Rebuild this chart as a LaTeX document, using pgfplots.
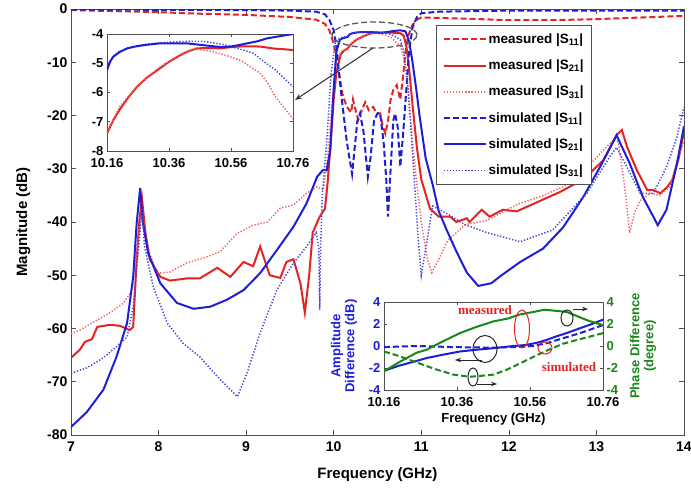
\documentclass[border=0pt]{standalone}
\usepackage{pgfplots}
\pgfplotsset{compat=1.18}
\usepackage{fontspec}
\setmainfont{Liberation Sans}
\newfontfamily\serifa{Liberation Serif}
\usetikzlibrary{arrows.meta}
\definecolor{cR}{RGB}{228,35,35}
\definecolor{cB}{RGB}{30,30,215}
\definecolor{cG}{RGB}{25,135,25}
\definecolor{cRl}{RGB}{238,100,100}
\definecolor{cBl}{RGB}{70,70,220}
\definecolor{frame}{RGB}{80,80,80}
\tikzset{
  rdash/.style={color=cR, line width=2pt, dash pattern=on 6pt off 3pt},
  rsol/.style={color=cR, line width=2pt, solid},
  rdot/.style={color=cRl, line width=1.5pt, dash pattern=on 1.3pt off 1.8pt},
  bdash/.style={color=cB, line width=2pt, dash pattern=on 6pt off 3pt},
  bsol/.style={color=cB, line width=2pt, solid},
  bdot/.style={color=cBl, line width=1.5pt, dash pattern=on 1.3pt off 1.8pt},
}
\begin{document}
\begin{tikzpicture}
\begin{axis}[
  at={(0,0)}, anchor=south west, scale only axis,
  width=613pt, height=426pt,
  xmin=7, xmax=14, ymin=-80, ymax=0,
  xtick={7,8,9,10,11,12,13,14},
  xticklabels={7,8,9,10,11,12,13,14},
  ytick={-80,-70,-60,-50,-40,-30,-20,-10,0},
  yticklabels={-80,-70,-60,-50,-40,-30,-20,-10,0},
  tick align=inside, major tick length=5pt,
  tick style={frame, line width=0.6pt},
  axis line style={frame, line width=0.8pt},
  tick label style={font=\fontsize{14}{14}\selectfont\bfseries},
  xticklabel style={yshift=-3pt},
  xlabel={Frequency (GHz)}, ylabel={Magnitude (dB)},
  label style={font=\fontsize{15}{15}\selectfont\bfseries},
  xlabel style={yshift=-9pt},
  ylabel style={yshift=10pt},
  legend style={at={(0.85,0.962)}, anchor=north east, draw=frame, line width=0.8pt,
    font=\fontsize{13.5}{13.5}\selectfont\bfseries, row sep=11pt, inner xsep=6pt, inner ysep=6pt},
  legend cell align=left,
  legend image code/.code={\draw[#1] (0pt,0pt) -- (42pt,0pt);},
]
\addplot[rdash] coordinates {(7,-0.2) (7.5,-0.4) (8,-0.6) (8.5,-0.9) (9,-1.1) (9.5,-1.5) (9.8,-2) (9.9,-2.8) (9.95,-4) (10.0,-6.5) (10.05,-11) (10.1,-16) (10.15,-18.4) (10.2,-19.4) (10.22,-17) (10.25,-19) (10.28,-20.8) (10.32,-19) (10.36,-17.5) (10.4,-19) (10.45,-18.4) (10.49,-19.5) (10.53,-19.6) (10.56,-22) (10.59,-23.4) (10.62,-21) (10.65,-17) (10.68,-15.2) (10.72,-14.3) (10.76,-17) (10.79,-13) (10.82,-8) (10.85,-5) (10.9,-3) (10.95,-2) (11,-1.6) (11.5,-1.8) (12,-2.1) (12.5,-2.1) (13,-1.9) (13.5,-1.6) (14,-1.3)};
\addlegendentry{measured |S\textsubscript{11}|}
\addplot[rsol] coordinates {(7,-65.5) (7.1,-64) (7.16,-62.5) (7.24,-62) (7.3,-59.7) (7.45,-59.3) (7.56,-59.5) (7.67,-60.3) (7.71,-59.7) (7.75,-47) (7.78,-40) (7.81,-35.5) (7.85,-42) (7.9,-47) (8.02,-50.3) (8.13,-51) (8.32,-50.6) (8.47,-50.6) (8.67,-48.6) (8.82,-50.3) (8.97,-47.5) (9.08,-48.3) (9.16,-44.6) (9.27,-50) (9.39,-50.5) (9.46,-47.5) (9.54,-47) (9.62,-51.5) (9.67,-57) (9.72,-50) (9.76,-42) (9.84,-39) (9.9,-37.5) (9.93,-32.7) (9.96,-26.5) (10.0,-17) (10.03,-12) (10.08,-8.5) (10.12,-7.8) (10.16,-7.4) (10.2,-6.55) (10.257,-5.8) (10.33,-5.18) (10.397,-4.72) (10.45,-4.49) (10.526,-4.49) (10.58,-4.43) (10.655,-4.43) (10.76,-4.55) (10.8,-5) (10.83,-7) (10.86,-11) (10.9,-18) (10.95,-26) (11.0,-32) (11.1,-37.5) (11.2,-39) (11.33,-39) (11.4,-40) (11.52,-39.3) (11.55,-40) (11.69,-37.7) (11.78,-39) (11.93,-37.7) (12.09,-38) (12.32,-36.3) (12.58,-34.4) (12.85,-32) (13.08,-28.4) (13.23,-23.7) (13.29,-22.7) (13.35,-25.9) (13.46,-30.2) (13.58,-34) (13.65,-34) (13.73,-34.6) (13.81,-33.4) (13.87,-32) (13.94,-28) (14,-23)};
\addlegendentry{measured |S\textsubscript{21}|}
\addplot[rdot] coordinates {(7,-61) (7.1,-60.3) (7.3,-58.4) (7.45,-57) (7.6,-55.2) (7.7,-52.8) (7.75,-45.3) (7.81,-38) (7.87,-44.6) (7.98,-49.6) (8.13,-49.4) (8.32,-47.7) (8.51,-46.8) (8.7,-45.6) (8.9,-42.1) (9.08,-40.6) (9.24,-40) (9.39,-37.4) (9.54,-36.8) (9.69,-34.6) (9.81,-33.4) (9.88,-34) (9.93,-28) (9.98,-18) (10.03,-10) (10.08,-8) (10.16,-7.35) (10.2,-6.5) (10.26,-5.75) (10.33,-5.13) (10.4,-4.68) (10.44,-4.5) (10.5,-4.6) (10.55,-4.75) (10.59,-4.9) (10.62,-5.1) (10.655,-5.35) (10.68,-5.7) (10.7,-6.1) (10.73,-6.5) (10.76,-6.9) (10.8,-9) (10.85,-15) (10.9,-25) (10.95,-33) (11.0,-40) (11.07,-47) (11.12,-49.5) (11.2,-47) (11.3,-43.5) (11.5,-40.5) (11.75,-39.7) (12.0,-37.5) (12.13,-36.5) (12.4,-35) (12.6,-33.5) (12.8,-31.5) (13.05,-27) (13.2,-24.5) (13.25,-25) (13.32,-33) (13.38,-42) (13.44,-38) (13.5,-36) (13.61,-34.6) (13.72,-35) (13.84,-33.4) (13.93,-28) (14,-25)};
\addlegendentry{measured |S\textsubscript{31}|}
\addplot[bdash] coordinates {(7,-0.1) (8,-0.15) (9,-0.2) (9.5,-0.3) (9.8,-0.5) (9.9,-1) (9.95,-2) (10,-4) (10.03,-7) (10.06,-12) (10.1,-18) (10.15,-25) (10.21,-31) (10.24,-26) (10.27,-21) (10.3,-19.6) (10.34,-23) (10.39,-31.5) (10.42,-28) (10.46,-21) (10.5,-19.6) (10.53,-19.6) (10.57,-25) (10.6,-32) (10.62,-39) (10.65,-30) (10.68,-21) (10.7,-19.6) (10.73,-22) (10.76,-29.6) (10.79,-24) (10.83,-15) (10.86,-8) (10.9,-3.5) (10.95,-1.5) (11,-0.8) (11.2,-0.5) (12,-0.3) (13,-0.3) (14,-0.3)};
\addlegendentry{simulated |S\textsubscript{11}|}
\addplot[bsol] coordinates {(7,-78.5) (7.18,-75.7) (7.37,-71.5) (7.52,-65.3) (7.64,-59) (7.71,-50.3) (7.75,-40.2) (7.79,-33.6) (7.82,-40) (7.88,-45.8) (8.02,-51.5) (8.21,-55.2) (8.4,-56.3) (8.59,-55.9) (8.78,-54.6) (8.97,-52.8) (9.16,-49.6) (9.35,-45.3) (9.54,-40.9) (9.69,-36.5) (9.81,-31.5) (9.88,-30.2) (9.92,-30.3) (9.96,-26.5) (10.0,-15) (10.03,-8) (10.07,-5.8) (10.1,-5.5) (10.16,-5.23) (10.18,-4.78) (10.225,-4.49) (10.28,-4.38) (10.33,-4.32) (10.418,-4.32) (10.494,-4.41) (10.558,-4.43) (10.612,-4.32) (10.676,-4.15) (10.76,-4.0) (10.82,-4.2) (10.86,-6) (10.9,-10) (10.95,-16) (10.98,-20) (11.05,-28) (11.13,-33) (11.2,-38) (11.29,-41.5) (11.4,-45.5) (11.52,-49.5) (11.65,-52) (11.8,-51.5) (11.9,-50.2) (12.13,-47.5) (12.39,-45) (12.62,-41) (12.85,-35.3) (13.04,-29.7) (13.23,-23.7) (13.38,-29) (13.53,-35.3) (13.65,-39) (13.7,-40.6) (13.8,-37.7) (13.92,-29) (14,-22)};
\addlegendentry{simulated |S\textsubscript{21}|}
\addplot[bdot] coordinates {(7,-68.4) (7.18,-67.4) (7.37,-65.5) (7.52,-63.4) (7.64,-61.6) (7.71,-56) (7.77,-45.3) (7.81,-37.4) (7.84,-44.6) (7.94,-52.2) (8.1,-59) (8.28,-62.8) (8.47,-65.3) (8.67,-69) (8.9,-72.8) (9.01,-68.4) (9.16,-60.8) (9.35,-52.8) (9.54,-47.7) (9.69,-44.6) (9.8,-42) (9.83,-45) (9.84,-56.5) (9.85,-45) (9.87,-35) (9.92,-25) (9.97,-12) (10.02,-6) (10.08,-5.4) (10.16,-5.1) (10.2,-4.6) (10.26,-4.4) (10.33,-4.3) (10.42,-4.25) (10.5,-4.3) (10.56,-4.43) (10.633,-4.66) (10.68,-5.0) (10.72,-5.35) (10.76,-5.8) (10.8,-8) (10.84,-13) (10.88,-22) (10.92,-32) (10.96,-42) (11.0,-50) (11.05,-45) (11.13,-37) (11.3,-38.5) (11.5,-40.5) (11.75,-42) (12.13,-43.7) (12.5,-41.5) (12.89,-34.6) (13.15,-27.8) (13.23,-26) (13.35,-29.7) (13.5,-34.6) (13.65,-34.6) (13.8,-29.7) (13.92,-24) (14,-18.4)};
\addlegendentry{simulated |S\textsubscript{31}|}
\end{axis}

% inset 1
\begin{axis}[
  at={(36pt,284pt)}, anchor=south west, scale only axis,
  width=186pt, height=117pt,
  xmin=10.16, xmax=10.76, ymin=-8, ymax=-4,
  xtick={10.16,10.36,10.56,10.76}, xticklabels={10.16,10.36,10.56,10.76},
  ytick={-8,-7,-6,-5,-4}, yticklabels={-8,-7,-6,-5,-4},
  tick align=inside, major tick length=3pt,
  tick style={frame, line width=0.6pt},
  axis line style={frame, line width=0.8pt},
  axis background/.style={fill=white},
  tick label style={font=\fontsize{13}{13}\selectfont\bfseries},
  xticklabel style={yshift=-4pt},
]
\addplot[rsol] coordinates {(10.16,-7.4) (10.18,-6.95) (10.203,-6.55) (10.23,-6.15) (10.257,-5.8) (10.29,-5.48) (10.33,-5.18) (10.36,-4.95) (10.397,-4.72) (10.42,-4.6) (10.45,-4.49) (10.49,-4.48) (10.526,-4.49) (10.55,-4.46) (10.58,-4.43) (10.62,-4.42) (10.655,-4.43) (10.7,-4.5) (10.73,-4.52) (10.76,-4.55)};
\addplot[rdot] coordinates {(10.16,-7.35) (10.2,-6.5) (10.26,-5.75) (10.33,-5.13) (10.4,-4.68) (10.44,-4.5) (10.5,-4.6) (10.55,-4.75) (10.59,-4.9) (10.62,-5.1) (10.655,-5.35) (10.68,-5.7) (10.7,-6.1) (10.73,-6.5) (10.76,-6.9)};
\addplot[bdot] coordinates {(10.16,-5.1) (10.18,-4.75) (10.2,-4.6) (10.23,-4.48) (10.26,-4.4) (10.3,-4.33) (10.36,-4.28) (10.42,-4.25) (10.47,-4.25) (10.5,-4.3) (10.53,-4.35) (10.56,-4.43) (10.6,-4.55) (10.633,-4.66) (10.66,-4.9) (10.68,-5.05) (10.7,-5.2) (10.72,-5.4) (10.74,-5.6) (10.76,-5.8)};
\addplot[bsol] coordinates {(10.16,-5.23) (10.17,-4.95) (10.18,-4.78) (10.2,-4.62) (10.225,-4.49) (10.25,-4.43) (10.28,-4.38) (10.33,-4.32) (10.418,-4.32) (10.46,-4.37) (10.494,-4.41) (10.53,-4.45) (10.558,-4.43) (10.585,-4.38) (10.612,-4.32) (10.645,-4.25) (10.676,-4.15) (10.72,-4.07) (10.76,-4.0)};
\end{axis}

% inset 2 (left axis: amplitude)
\begin{axis}[
  at={(313pt,45pt)}, anchor=south west, scale only axis,
  width=219pt, height=88pt,
  xmin=10.16, xmax=10.76, ymin=-4, ymax=4,
  xtick={10.16,10.36,10.56,10.76}, xticklabels={10.16,10.36,10.56,10.76},
  ytick={-4,-2,0,2,4}, yticklabels={-4,-2,0,2,4},
  tick align=inside, major tick length=3pt,
  tick style={frame, line width=0.6pt},
  axis line style={frame, line width=0.8pt},
  axis background/.style={fill=white},
  ytick pos=left,
  tick label style={font=\fontsize{13}{13}\selectfont\bfseries},
  yticklabel style={cB},
  xticklabel style={yshift=-4pt},
  xlabel={Frequency (GHz)},
  ylabel={Amplitude\\Difference (dB)},
  label style={font=\fontsize{13}{14}\selectfont\bfseries, align=center},
  ylabel style={cB, yshift=5pt},
  xlabel style={yshift=1pt},
]
\addplot[bsol] coordinates {(10.16,-2.26) (10.2,-1.8) (10.25,-1.35) (10.276,-1.1) (10.32,-0.8) (10.368,-0.5) (10.41,-0.35) (10.46,-0.2) (10.5,-0.05) (10.55,0.1) (10.58,0.3) (10.606,0.56) (10.63,0.85) (10.66,1.17) (10.7,1.65) (10.73,2.0) (10.76,2.4)};
\addplot[bdash] coordinates {(10.16,-0.1) (10.25,0) (10.35,-0.1) (10.45,-0.15) (10.52,-0.1) (10.57,0) (10.61,0.3) (10.65,0.7) (10.7,1.2) (10.76,1.9)};
\end{axis}
% inset 2 (right axis: phase)
\begin{axis}[
  at={(313pt,45pt)}, anchor=south west, scale only axis,
  width=219pt, height=88pt,
  xmin=10.16, xmax=10.76, ymin=-4, ymax=4,
  hide x axis, axis y line*=right,
  ytick={-4,-2,0,2,4}, yticklabels={-4,-2,0,2,4},
  tick align=inside, major tick length=3pt,
  tick style={frame, line width=0.6pt},
  axis line style={frame, line width=0.8pt},
  tick label style={font=\fontsize{13}{13}\selectfont\bfseries, cG},
  ylabel={Phase Difference\\(degree)},
  ylabel style={font=\fontsize{13}{14}\selectfont\bfseries, align=center, cG, yshift=-5pt},
]
\addplot[cG, line width=2pt] coordinates {(10.16,-2.3) (10.2,-1.5) (10.25,-0.6) (10.276,-0.35) (10.32,0.4) (10.368,1.17) (10.41,1.7) (10.46,2.24) (10.5,2.5) (10.53,2.85) (10.57,3.1) (10.6,3.3) (10.63,3.2) (10.66,3.1) (10.69,2.7) (10.72,2.3) (10.76,1.9)};
\addplot[cG, line width=2pt, dash pattern=on 6pt off 3pt] coordinates {(10.16,-0.5) (10.2,-0.9) (10.25,-1.5) (10.3,-2.1) (10.35,-2.6) (10.395,-2.8) (10.43,-2.7) (10.46,-2.6) (10.5,-2.1) (10.55,-1.3) (10.6,-0.5) (10.65,0.2) (10.69,0.56) (10.76,1.17)};
\end{axis}

% annotations
\draw[gray!70!black, line width=1.3pt, dash pattern=on 6pt off 3pt] (303.5pt,400pt) ellipse [x radius=42.5pt, y radius=13pt];
\draw[black!80, line width=1.1pt, -{Stealth[length=7pt]}] (302pt,387pt) -- (224pt,335pt);
\node[cR, font=\serifa\fontsize{13}{13}\selectfont\bfseries] at (414pt,125pt) {measured};
\node[cR, font=\serifa\fontsize{13}{13}\selectfont\bfseries] at (498pt,68pt) {simulated};
\draw[cR, line width=1pt] (451pt,106pt) ellipse [x radius=7.5pt, y radius=19pt];
\draw[cR, line width=1pt] (474pt,87pt) ellipse [x radius=7pt, y radius=6pt];
\draw[black!85, line width=1pt] (414pt,86pt) ellipse [x radius=12pt, y radius=13.5pt];
\draw[black!85, line width=1pt, -{Stealth[length=6pt]}] (411pt,75pt) -- (384pt,75pt);
\draw[black!85, line width=1pt] (402pt,58pt) ellipse [x radius=5pt, y radius=9pt];
\draw[black!85, line width=1pt, -{Stealth[length=6pt]}] (406pt,51pt) -- (426pt,51pt);
\draw[black!85, line width=1pt] (496pt,117pt) ellipse [x radius=6pt, y radius=8pt];
\draw[black!85, line width=1pt, -{Stealth[length=6pt]}] (502pt,126pt) -- (517pt,126pt);

\pgfresetboundingbox
\path (-71pt,-56pt) rectangle (620pt,435pt);
\end{tikzpicture}
\end{document}
